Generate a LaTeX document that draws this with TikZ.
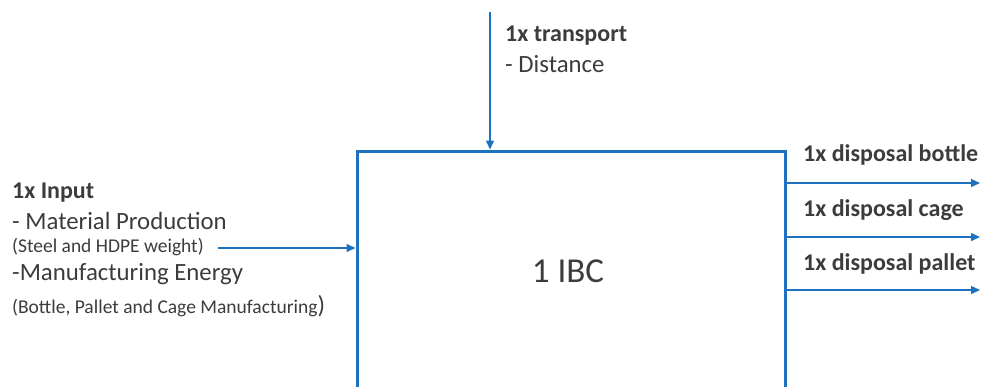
\documentclass[tikz,border=0pt]{standalone}
\usepackage{fontspec}
\setmainfont{Carlito}
\usetikzlibrary{arrows.meta}
\definecolor{flowblue}{RGB}{28,114,190}
\definecolor{labelgray}{RGB}{60,60,60}
\tikzset{
  lbl/.style={anchor=base west, inner sep=0pt, text=labelgray},
  big/.style={lbl, font=\fontsize{24.8}{29}\selectfont},
  bigb/.style={lbl, font=\bfseries\fontsize{24}{29}\selectfont},
  small/.style={lbl, font=\fontsize{19.5}{23}\selectfont},
  flow/.style={draw=flowblue, line width=1.4pt, -{Triangle[length=9pt,width=8pt]}},
  procbox/.style={draw=flowblue, line width=3pt, fill=white, minimum width=428pt,
    minimum height=240pt, inner sep=0pt}
}
\begin{document}
\begin{tikzpicture}[x=1pt,y=-1pt]
\useasboundingbox (0,0) rectangle (988,386);
\clip (0,0) rectangle (988,386);
% process box, running off the lower edge
\node[procbox] (ibc) at (571,271) {};
\node[text=labelgray, font=\fontsize{35}{40}\selectfont, inner sep=0pt, anchor=base] (ibclabel) at (568,282) {1 IBC};
% transport input from above
\node[bigb] (trans) at (505,41) {1x transport};
\node[big] (dist) at (505,72) {- Distance};
\coordinate (transstart) at (490,12);
\draw[flow] (transstart) -- (transstart |- ibc.north);
% material input from the left
\node[bigb] (inp) at (12,198) {1x Input};
\node[big] (mat) at (12,229) {- Material Production};
\node[small] (steel) at (12,252) {(Steel and HDPE weight)};
\node[big] (manu) at (12,280) {-Manufacturing Energy};
\node[small] (bottle) at (12,313) {(Bottle, Pallet and Cage Manufacturing\fontsize{24.8}{29}\selectfont)};
\coordinate (inpstart) at (218,248);
\draw[flow] (inpstart) -- (inpstart -| ibc.west);
% disposal outputs to the right
\node[bigb] (outb) at (803,161) {1x disposal bottle};
\node[bigb] (outc) at (803,216) {1x disposal cage};
\node[bigb] (outp) at (803,270) {1x disposal pallet};
\coordinate (endb) at (980,183);
\coordinate (endc) at (980,237);
\coordinate (endp) at (980,290);
\draw[flow] (endb -| ibc.east) -- (endb);
\draw[flow] (endc -| ibc.east) -- (endc);
\draw[flow] (endp -| ibc.east) -- (endp);
\end{tikzpicture}
\end{document}
